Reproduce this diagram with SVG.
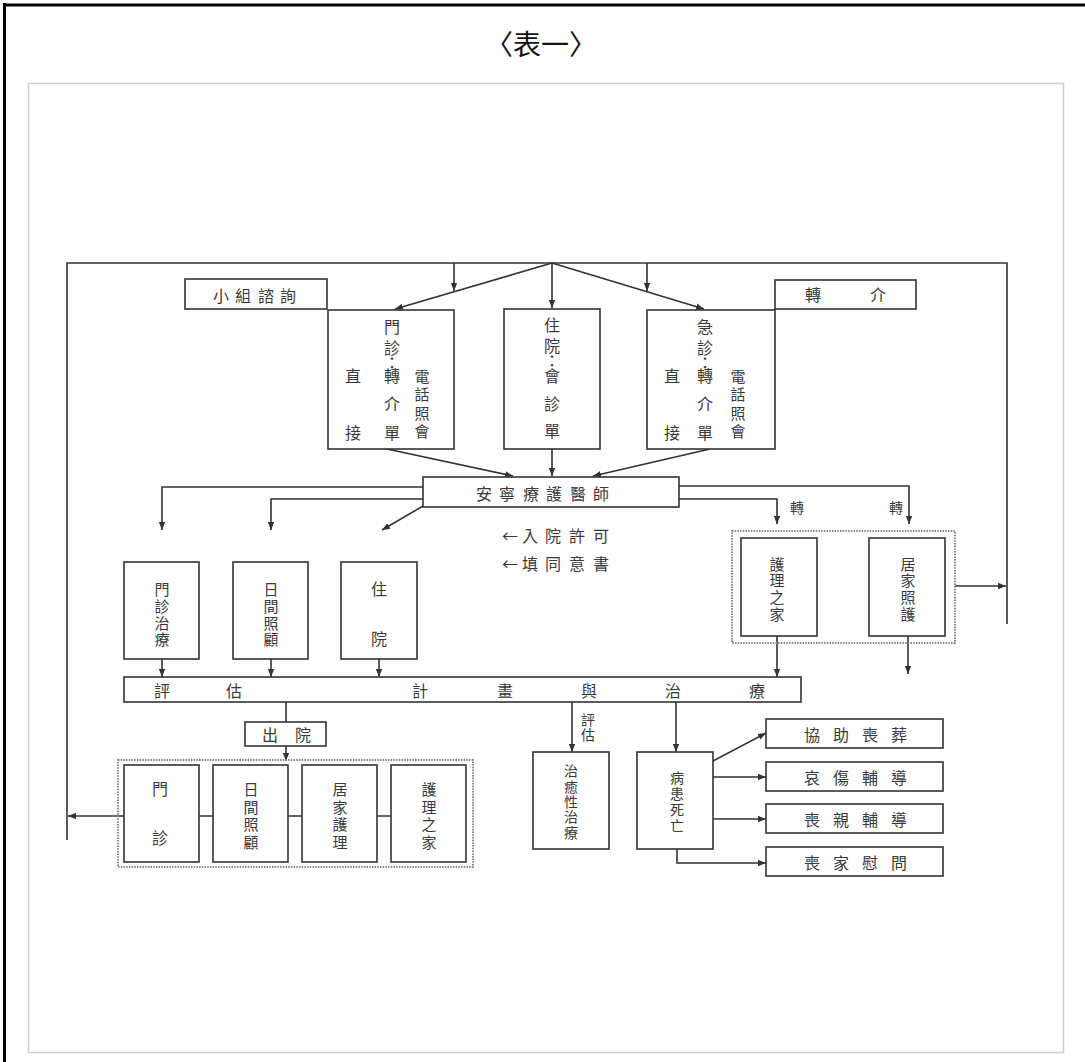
<svg xmlns="http://www.w3.org/2000/svg" width="1085" height="1062" viewBox="0 0 1085 1062">
<defs>
<marker id="ah" viewBox="0 0 8 8" refX="8" refY="4" markerWidth="8" markerHeight="8" markerUnits="userSpaceOnUse" orient="auto">
<path d="M0,0.8 L8,4 L0,7.2 z" fill="#333"/>
</marker>
<style>
text{font-family:"Noto Sans CJK TC","Noto Sans CJK SC",sans-serif;fill:#3a3a3a;font-size:16px;text-anchor:middle;dominant-baseline:central}
.s{font-size:14px}
.v{font-size:15px}
.title{font-size:28px;fill:#111}
.box{fill:#fff;stroke:#333;stroke-width:1.6}
.dot{fill:none;stroke:#888;stroke-width:2;stroke-dasharray:1.5 1.2}
.c{fill:none;stroke:#333;stroke-width:1.6}
.a{marker-end:url(#ah)}
</style>
</defs>
<rect width="1085" height="1062" fill="#fff"/>
<g id="frame">
<path d="M3,5 H1085 M4.5,3 V1062" fill="none" stroke="#000" stroke-width="3"/>
<rect x="28.5" y="83.5" width="1035" height="969" fill="none" stroke="#cfcfcf" stroke-width="1.5"/>
</g>
<g id="title"><text class="title" x="541" y="43">〈表一〉</text></g>

<g id="connectors">
<polyline class="c" points="67,840 67,263 1007,263 1007,624"/>
<line class="c a" x1="454" y1="263" x2="454" y2="291"/>
<line class="c a" x1="647" y1="263" x2="647" y2="291"/>
<line class="c a" x1="552" y1="263" x2="395" y2="309"/>
<line class="c a" x1="552" y1="263" x2="552" y2="308"/>
<line class="c a" x1="552" y1="263" x2="704" y2="309"/>
<line class="c a" x1="387" y1="449" x2="513" y2="476"/>
<line class="c a" x1="552" y1="449" x2="552" y2="476"/>
<line class="c a" x1="710" y1="449" x2="593" y2="476"/>
<polyline class="c a" points="423,487 162,487 162,530"/>
<polyline class="c a" points="423,499 271,499 271,530"/>
<line class="c a" x1="423" y1="506" x2="382" y2="530"/>
<polyline class="c a" points="679,486 909,486 909,524"/>
<polyline class="c a" points="679,499 777,499 777,524"/>
<line class="c a" x1="777" y1="636" x2="777" y2="677"/>
<line class="c a" x1="908" y1="636" x2="908" y2="674"/>
<line class="c a" x1="955" y1="586" x2="1006" y2="586"/>
<line class="c a" x1="162" y1="659" x2="162" y2="677"/>
<line class="c a" x1="271" y1="659" x2="271" y2="677"/>
<line class="c a" x1="379" y1="659" x2="379" y2="677"/>
<line class="c" x1="286" y1="702" x2="286" y2="722"/>
<line class="c a" x1="286" y1="746" x2="286" y2="761"/>
<path class="c" d="M199,816 H213 M288,816 H302 M377,816 H391"/>
<line class="c a" x1="124" y1="816" x2="68" y2="816"/>
<line class="c a" x1="572" y1="702" x2="572" y2="752"/>
<line class="c a" x1="676" y1="702" x2="676" y2="752"/>
<line class="c a" x1="713" y1="761" x2="766" y2="733"/>
<line class="c a" x1="713" y1="777" x2="766" y2="777"/>
<line class="c a" x1="713" y1="819" x2="766" y2="819"/>
<polyline class="c a" points="677,849 677,863 766,863"/>
<text class="s" x="797" y="507">轉</text>
<text class="s" x="896" y="507">轉</text>
<text class="s" x="588 588" y="719 734">評估</text>
</g>

<g id="n-xiaozu"><rect class="box" x="185" y="279" width="142" height="30"/><text x="221 243 266 288" y="295">小組諮詢</text></g>
<g id="n-zhuanjie"><rect class="box" x="775" y="280" width="141" height="29"/><text x="813 878" y="294">轉介</text></g>

<g id="n-menzhen"><rect class="box" x="328" y="310" width="126" height="139"/>
<text x="353 353" y="375 432">直接</text>
<text x="392 392 392 392 392 392" y="326 347 362 375 403 432">門診：轉介單</text>
<text class="v" x="422 422 422 422" y="375 393 412 430">電話照會</text>
</g>
<g id="n-zhuyuan"><rect class="box" x="504" y="309" width="96" height="140"/>
<text x="552 552 552 552 552 552" y="324 345 360 375 403 430">住院：會診單</text>
</g>
<g id="n-jizhen"><rect class="box" x="647" y="310" width="128" height="139"/>
<text x="672 672" y="375 432">直接</text>
<text x="705 705 705 705 705 705" y="326 347 362 375 403 432">急診：轉介單</text>
<text class="v" x="738 738 738 738" y="375 393 412 430">電話照會</text>
</g>

<g id="n-anning"><rect class="box" x="423" y="477" width="256" height="30"/>
<text x="484 507 531 554 578 601" y="493">安寧療護醫師</text></g>
<g id="n-notes">
<text x="510 530 553 577 601" y="535">←入院許可</text>
<text x="510 530 553 577 601" y="563">←填同意書</text>
</g>

<g id="n-menzhenzhiliao"><rect class="box" x="124" y="562" width="75" height="97"/>
<text class="v" x="162 162 162 162" y="588 605 622 638">門診治療</text></g>
<g id="n-rijian"><rect class="box" x="233" y="562" width="75" height="97"/>
<text class="v" x="271 271 271 271" y="588 605 622 638">日間照顧</text></g>
<g id="n-zhuyuan2"><rect class="box" x="341" y="562" width="76" height="97"/>
<text x="379 379" y="588 638">住院</text></g>

<g id="n-group1"><rect class="dot" x="732" y="531" width="223" height="112"/>
<g id="n-huli1"><rect class="box" x="741" y="538" width="76" height="98"/>
<text class="v" x="777 777 777 777" y="563 579 596 613">護理之家</text></g>
<g id="n-jujia1"><rect class="box" x="869" y="538" width="76" height="98"/>
<text class="v" x="908 908 908 908" y="563 579 596 613">居家照護</text></g>
</g>

<g id="n-bar"><rect class="box" x="124" y="677" width="677" height="25"/>
<text x="162 234 420 505 589 673 757" y="690">評估計畫與治療</text></g>

<g id="n-chuyuan"><rect class="box" x="245" y="722" width="81" height="24"/>
<text x="270 303" y="734">出院</text></g>

<g id="n-group2"><rect class="dot" x="118" y="760" width="355" height="107"/>
<g id="n-menzhen3"><rect class="box" x="124" y="765" width="75" height="97"/>
<text x="160 160" y="788 837">門診</text></g>
<g id="n-rijian3"><rect class="box" x="213" y="765" width="75" height="97"/>
<text class="v" x="251 251 251 251" y="788 806 823 841">日間照顧</text></g>
<g id="n-jujia3"><rect class="box" x="302" y="765" width="75" height="97"/>
<text class="v" x="340 340 340 340" y="788 806 823 841">居家護理</text></g>
<g id="n-huli3"><rect class="box" x="391" y="765" width="75" height="97"/>
<text class="v" x="429 429 429 429" y="788 806 823 841">護理之家</text></g>
</g>

<g id="n-zhiyu"><rect class="box" x="533" y="752" width="76" height="97"/>
<text class="s" x="571 571 571 571 571" y="770 786 801 816 832">治癒性治療</text></g>
<g id="n-siwang"><rect class="box" x="637" y="752" width="76" height="97"/>
<text class="s" x="677 677 677 677" y="777 793 809 825">病患死亡</text></g>

<g id="n-sangzang"><rect class="box" x="766" y="719" width="177" height="29"/>
<text x="812 841 870 899" y="734">協助喪葬</text></g>
<g id="n-aishang"><rect class="box" x="766" y="762" width="177" height="29"/>
<text x="812 841 870 899" y="777">哀傷輔導</text></g>
<g id="n-sangqin"><rect class="box" x="766" y="804" width="177" height="29"/>
<text x="812 841 870 899" y="819">喪親輔導</text></g>
<g id="n-weiwen"><rect class="box" x="766" y="847" width="177" height="29"/>
<text x="812 841 870 899" y="862">喪家慰問</text></g>
</svg>
